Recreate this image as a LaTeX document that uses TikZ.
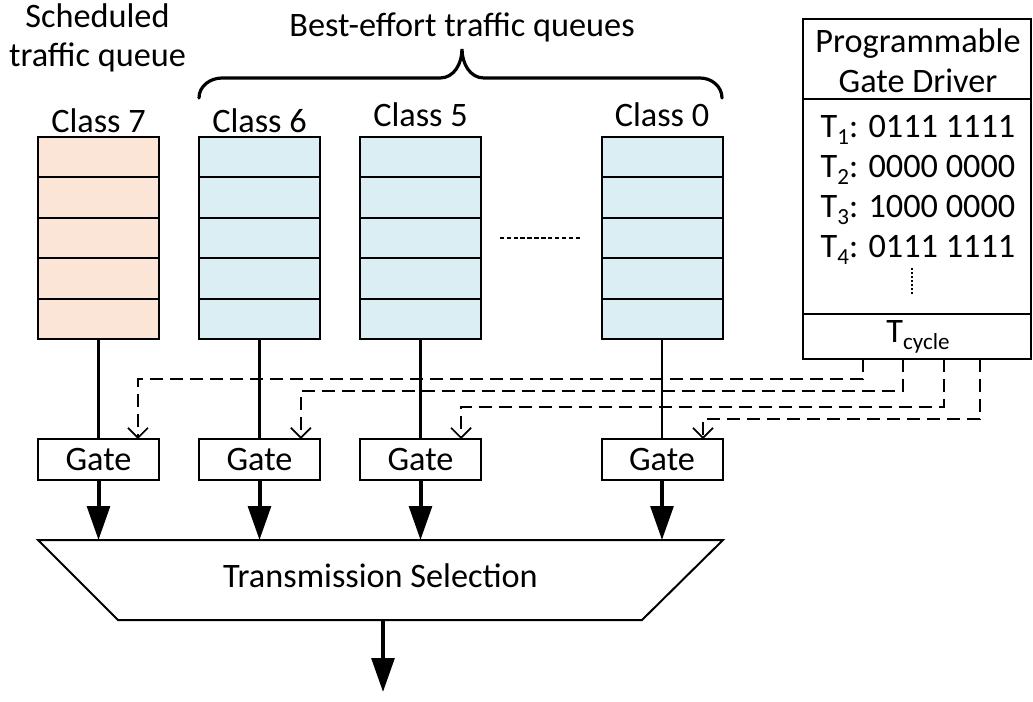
\documentclass[tikz,border=0pt]{standalone}
\usepackage{fontspec}
\setmainfont{Carlito}
\usetikzlibrary{arrows.meta,calc}
\definecolor{peach}{HTML}{FBE5D6}
\definecolor{qblue}{HTML}{DAEEF3}
\newcommand\tsub[1]{\raisebox{-0.22em}{\fontsize{17.3pt}{19pt}\selectfont #1}}
\begin{document}
\begin{tikzpicture}[x=0.75pt,y=-0.75pt,
  every node/.style={font=\fontsize{25.7pt}{30pt}\selectfont, inner sep=0pt, outer sep=0pt},
  lbl/.style={anchor=base},
  queuebox/.style={draw, line width=1.5pt, minimum width=90.75pt, minimum height=151.5pt},
  gatebox/.style={draw, line width=1.5pt, minimum width=90.75pt, minimum height=30.75pt},
  cellsep/.style={line width=1.5pt},
  feed/.style={line width=1.6pt},
  outarr/.style={line width=3pt, -{Triangle[length=25.5pt,width=17pt]}},
  ctrl/.style={line width=1.5pt, dash pattern=on 9.75pt off 5.25pt, -{Straight Barb[length=7.5pt,width=15pt,line width=1.3pt]}},
  dotline/.style={line width=1.5pt, dash pattern=on 3.2pt off 2pt},
  vdots/.style={line width=1.3pt, dash pattern=on 1.5pt off 1.5pt},
  bracepath/.style={line width=2.4pt, line cap=round},
  frame/.style={line width=1.5pt}]
\useasboundingbox (0,0) rectangle (1033,701);

% top labels
\node[lbl] (sch1) at (97.5,27) {Scheduled};
\node[lbl] (sch2) at (97.5,66) {traffic queue};
\node[lbl] (be) at (462,36) {Best-effort traffic queues};
\draw[bracepath] (199,98) to[out=90,in=180] (222,78) -- (440,78) to[out=0,in=-90] (462,49)
  to[out=-90,in=180] (484,78) -- (700,78) to[out=0,in=90] (722,98);

% class labels
\node[lbl] (c7) at (98.5,132) {Class 7};
\node[lbl] (c6) at (259.5,132) {Class 6};
\node[lbl] (c5) at (420.5,126) {Class 5};
\node[lbl] (c0) at (662,126) {Class 0};

% queues
\node[queuebox, fill=peach] (q7) at (98.5,238) {};
\node[queuebox, fill=qblue] (q6) at (259.5,238) {};
\node[queuebox, fill=qblue] (q5) at (420.5,238) {};
\node[queuebox, fill=qblue] (q0) at (662,238) {};
\foreach \q in {q7,q6,q5,q0}{
  \foreach \k in {1,...,4}{
    \draw[cellsep] ($(\q.north west)!\k/5!(\q.south west)$) -- ($(\q.north east)!\k/5!(\q.south east)$);
  }
}
\draw[dotline] ([xshift=14pt]q5.east) -- ([xshift=-14.6pt]q0.west);

% gates
\node[gatebox] (g7) at (98.5,459.5) {Gate};
\node[gatebox] (g6) at (259.5,459.5) {Gate};
\node[gatebox] (g5) at (420.5,459.5) {Gate};
\node[gatebox] (g0) at (662,459.5) {Gate};
\foreach \n in {7,6,5,0}{
  \draw[feed] (q\n.south) -- (g\n.north);
}

% gate driver
\node[frame, draw, minimum width=171pt, minimum height=255pt] (gd) at (917,189) {};
\draw[frame] ($(gd.north west)+(0,80)$) -- ($(gd.north east)+(0,80)$);
\draw[frame] ($(gd.north west)+(0,295)$) -- ($(gd.north east)+(0,295)$);
\node[lbl] (pg1) at (918,52) {Programmable};
\node[lbl] (pg2) at (918,92) {Gate Driver};
\node[lbl] (t1) at (918,137) {T\tsub{1}: 0111 1111};
\node[lbl] (t2) at (918,177) {T\tsub{2}: 0000 0000};
\node[lbl] (t3) at (918,217) {T\tsub{3}: 1000 0000};
\node[lbl] (t4) at (918,257) {T\tsub{4}: 0111 1111};
\draw[vdots] (912,268) -- (912,295);
\node[lbl] (tc) at (918,342) {T\tsub{cycle}};

% control lines
\draw[ctrl] ([xshift=45pt]gd.south west) -- ++(0,-15pt) -| ([xshift=29.6pt]g7.north);
\draw[ctrl] ([xshift=75pt]gd.south west) -- ++(0,-24pt) -| ([xshift=31pt]g6.north);
\draw[ctrl] ([xshift=105.75pt]gd.south west) -- ++(0,-36pt) -| ([xshift=30.4pt]g5.north);
\draw[ctrl] ([xshift=132.75pt]gd.south west) -- ++(0,-45pt) -| ([xshift=30.75pt]g0.north);

% transmission selection
\coordinate (tl) at (38,540);
\coordinate (tr) at (723,540);
\coordinate (br) at (642,620);
\coordinate (bl) at (118,620);
\draw[frame, fill=white] (tl) -- (tr) -- (br) -- (bl) -- cycle;
\node[lbl] (ts) at (380.5,587) {Transmission Selection};
\foreach \n in {7,6,5,0}{
  \draw[outarr] (g\n.south) -- (g\n.south |- tl);
}
\coordinate (out) at (383,692);
\draw[outarr] (out |- bl) -- (out);
\end{tikzpicture}
\end{document}
